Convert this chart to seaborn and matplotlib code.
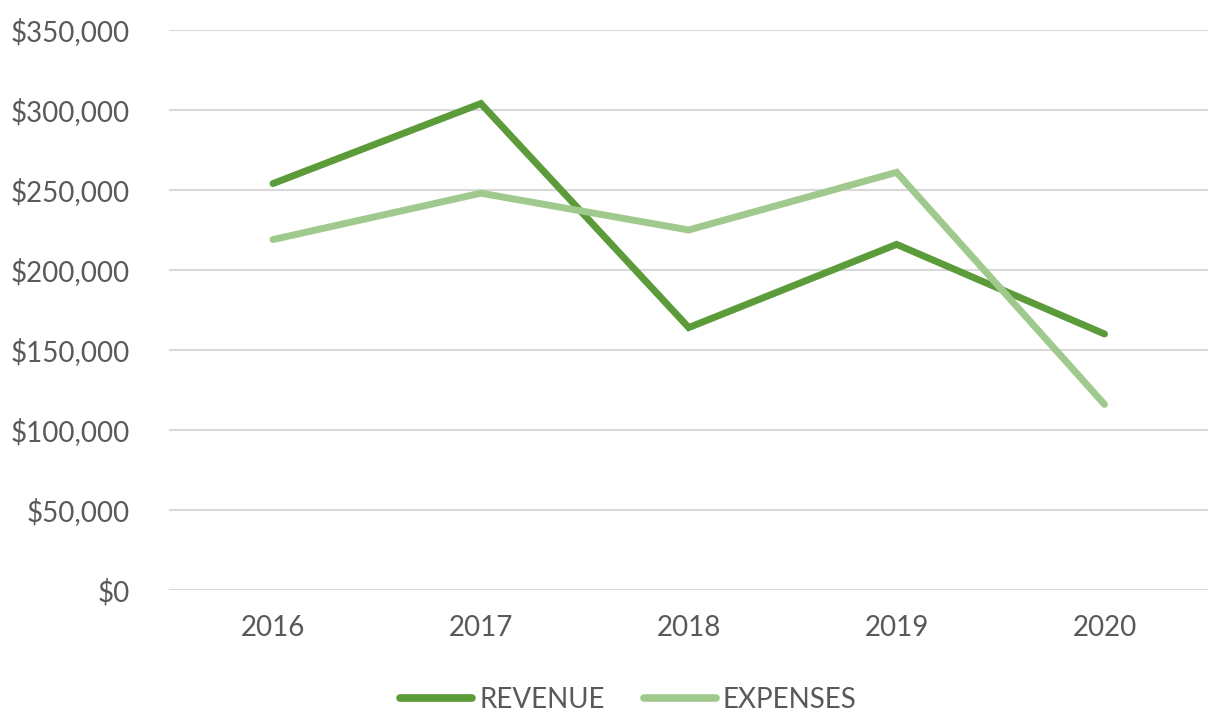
import matplotlib
matplotlib.use("Agg")
import matplotlib.pyplot as plt
import seaborn as sns
import pandas as pd
from matplotlib.ticker import FuncFormatter

years = ["2016", "2017", "2018", "2019", "2020"]
revenue = [254000, 304000, 164000, 216000, 160000]
expenses = [219000, 248000, 225000, 261000, 116000]
series_names = ["REVENUE", "EXPENSES"]
colors = ["#5B9B3A", "#A0C98D"]

df = pd.DataFrame({
    "year": years * 2,
    "value": revenue + expenses,
    "series": [series_names[0]] * len(years) + [series_names[1]] * len(years),
})

sns.set_theme(style="white")
plt.rcParams['font.family'] = ['Lato', 'DejaVu Sans']

fig = plt.figure(figsize=(12.1, 7.13), dpi=100)
ax = fig.add_axes([0.1397, 0.1725, 0.859, 0.7855])

sns.lineplot(data=df, x="year", y="value", hue="series", palette=colors,
             linewidth=5, ax=ax, sort=False, legend=True)
for line in ax.lines:
    line.set_solid_capstyle("round")
    line.set_solid_joinstyle("miter")

ax.set_ylim(0, 350000)
ax.set_xlim(-0.5, 4.5)
ax.set_yticks(range(0, 350001, 50000))
ax.yaxis.set_major_formatter(FuncFormatter(lambda v, p: f"${int(v):,}"))
ax.grid(axis="y", color="#D9D9D9", linewidth=1.5)
ax.grid(axis="x", visible=False)
ax.set_axisbelow(True)
for s in ax.spines.values():
    s.set_visible(False)
ax.set_xlabel("")
ax.set_ylabel("")
ax.tick_params(axis="both", length=0, labelsize=20, labelcolor="#595959")
ax.tick_params(axis="y", pad=28)
ax.tick_params(axis="x", pad=18)

leg = ax.legend(loc="center", bbox_to_anchor=(0.442, -0.196), ncol=2,
                frameon=False, fontsize=20, handlelength=2.6,
                handletextpad=0.25, columnspacing=1.4)
for t in leg.get_texts():
    t.set_color("#595959")
for h in leg.get_lines():
    h.set_linewidth(5.5)
    h.set_solid_capstyle("round")

fig.savefig("out.png", dpi=100)
